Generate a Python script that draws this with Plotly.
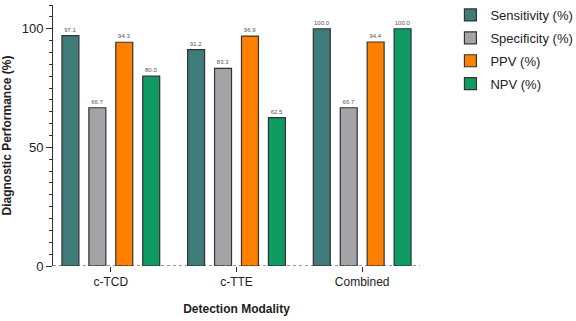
import plotly.graph_objects as go

categories = ["c-TCD", "c-TTE", "Combined"]
series_names = ["Sensitivity (%)", "Specificity (%)", "PPV (%)", "NPV (%)"]
sensitivity = [97.1, 91.2, 100.0]
specificity = [66.7, 83.3, 66.7]
ppv = [94.3, 96.9, 94.4]
npv = [80.0, 62.5, 100.0]
colors = ["#3f7b79", "#a3a3a8", "#ff8000", "#0e9a63"]

fig = go.Figure()
for name, vals, col in zip(series_names, [sensitivity, specificity, ppv, npv], colors):
    fig.add_trace(go.Bar(
        x=categories, y=vals, name=name, legendgroup=name,
        marker=dict(color=col, line=dict(color="#333333", width=1.2)),
        text=[f"{v:.1f}" for v in vals], textposition="outside",
        textfont=dict(size=6, color="#555555", family="Liberation Sans, Arial"),
        cliponaxis=False, constraintext="none",
    ))

fig.update_layout(
    width=576, height=321,
    margin=dict(l=51, r=156, t=5, b=55),
    plot_bgcolor="white", paper_bgcolor="white",
    barmode="group", bargap=0.143, bargroupgap=0.37,
    font=dict(family="Liberation Sans, Arial", color="#222222"),
    legend=dict(xref="container", yref="container", x=0.782, y=1.0,
                xanchor="left", yanchor="top", traceorder="grouped",
                font=dict(size=13, color="#222222"), tracegroupgap=3,
                itemwidth=30),
    showlegend=True,
)
fig.update_xaxes(
    range=[-0.46, 2.46], showline=False, ticks="outside", ticklen=5,
    tickcolor="#333333", tickfont=dict(size=12, color="#222222"),
    title=dict(text="<b>Detection Modality</b>", font=dict(size=12, color="#222222"), standoff=16),
    showgrid=False,
)
fig.update_yaxes(
    range=[0, 110], showline=True, linecolor="#333333", linewidth=1,
    tickvals=[0, 50, 100], ticks="outside", ticklen=6, tickcolor="#333333",
    tickfont=dict(size=13, color="#222222"),
    minor=dict(dtick=5, ticks="outside", ticklen=3, tickcolor="#333333", showgrid=False),
    showgrid=False, zeroline=False,
    title=dict(text="<b>Diagnostic Performance (%)</b>", font=dict(size=12, color="#222222"), standoff=8),
)
fig.add_shape(type="line", xref="x domain", yref="y", x0=0, x1=1, y0=0, y1=0,
              line=dict(color="#333333", width=1, dash="dot"))

fig.write_html("out.html")
